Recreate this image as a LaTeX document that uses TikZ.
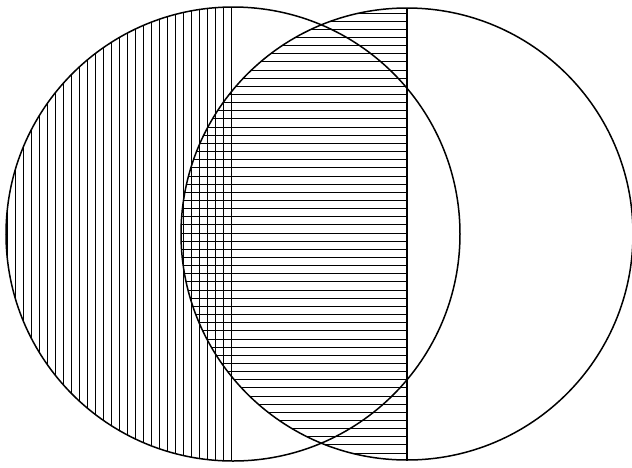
\documentclass[tikz,border=0pt]{standalone}
\begin{document}
\begin{tikzpicture}[x=1pt,y=-1pt,
  rim/.style={line width=1.5pt},
  hatch/.style={line width=0.95pt}]
\useasboundingbox (0,0) rectangle (632,467);
\coordinate (L) at (233,234);
\coordinate (R) at (407,234);
% vertical hatching in left circle
\begin{scope}
  \clip (L) circle (227);
  \foreach \i in {0,...,28}
    \draw[hatch] (231-\i*8,0) -- (231-\i*8,467);
\end{scope}
% horizontal hatching in left half of right circle
\begin{scope}
  \clip (R) circle (226);
  \clip (0,0) rectangle (407,467);
  \foreach \k in {0,...,56}
    \draw[hatch] (0,13+\k*8.15) -- (407,13+\k*8.15);
\end{scope}
\draw[rim] (L) circle (227);
\draw[rim] (R) circle (226);
\draw[rim] ([yshift=-226pt]R) -- ([yshift=226pt]R);
\end{tikzpicture}
\end{document}
